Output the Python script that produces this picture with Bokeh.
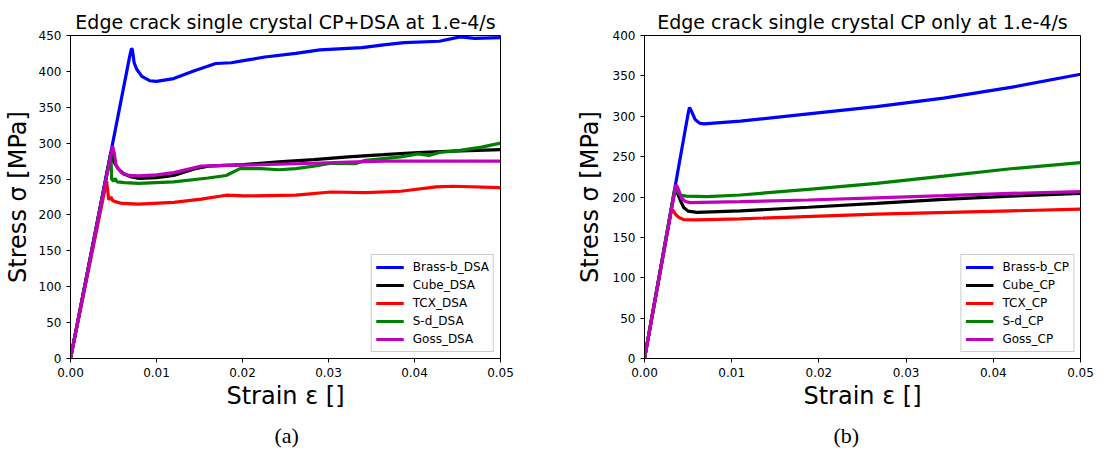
from bokeh.plotting import figure
from bokeh.layouts import row
from bokeh.models import Range1d, FixedTicker, PrintfTickFormatter, Title, Legend, LegendItem
from bokeh.embed import file_html
from bokeh.resources import INLINE

# ---------------- data: CP+DSA (a) ----------------
dsa_brass_x = [0, 0.0069, 0.0071, 0.0072, 0.0074, 0.0077, 0.0083, 0.0092, 0.0100, 0.0120, 0.0144,
               0.0169, 0.0187, 0.0201, 0.0226, 0.0262, 0.0290, 0.0339, 0.0364, 0.0388, 0.0429,
               0.0453, 0.0470, 0.0500]
dsa_brass_y = [0, 422, 432, 430, 412, 403, 393, 387, 386, 390, 401,
               411, 412, 415, 420, 425, 430, 433, 437, 440, 442,
               448, 446, 447]

dsa_cube_x = [0, 0.0047, 0.0050, 0.0055, 0.0062, 0.0071, 0.0080, 0.0100, 0.0120, 0.0144, 0.0160,
              0.0201, 0.0242, 0.0283, 0.0323, 0.0364, 0.0404, 0.0445, 0.0500]
dsa_cube_y = [0, 287, 275, 265, 257, 253, 251, 252, 255, 264, 268,
              270, 274, 277, 281, 284, 287, 289, 291]

dsa_tcx_x = [0, 0.0042, 0.00445, 0.0047, 0.0049, 0.0052, 0.0060, 0.0079, 0.0120, 0.0152, 0.0181,
             0.0201, 0.0262, 0.0303, 0.0343, 0.0384, 0.0425, 0.0445, 0.0500]
dsa_tcx_y = [0, 247, 221, 225, 220, 218.5, 216, 215, 217.5, 222, 227.5,
             226.5, 227.5, 232, 231, 233, 239, 240, 238]

dsa_sd_x = [0, 0.0047, 0.00478, 0.0050, 0.0052, 0.0054, 0.0063, 0.0079, 0.0120, 0.0160, 0.0181,
            0.0197, 0.0222, 0.0242, 0.0262, 0.0283, 0.0303, 0.0331, 0.0343, 0.0384, 0.0404,
            0.0417, 0.0429, 0.0453, 0.0478, 0.0500]
dsa_sd_y = [0, 285, 250, 247, 251, 246, 245, 244, 246, 251.5, 255,
            264.5, 264.5, 263, 264.5, 268, 272, 271.5, 276, 281, 285,
            283, 287, 290, 294.5, 300]

dsa_goss_x = [0, 0.0049, 0.0051, 0.0053, 0.0059, 0.0068, 0.0079, 0.0100, 0.0120, 0.0152, 0.0181,
              0.0222, 0.0283, 0.0323, 0.0364, 0.0425, 0.0500]
dsa_goss_y = [0, 296, 285, 269, 259, 255, 254.5, 256, 259, 268, 269,
              270, 272, 273.5, 275, 275, 275]

# ---------------- data: CP only (b) ----------------
cp_brass_x = [0, 0.0050, 0.00516, 0.0054, 0.0058, 0.0063, 0.0068, 0.0110, 0.0188, 0.0266, 0.0343, 0.0420, 0.0500]
cp_brass_y = [0, 303, 311, 306, 296, 291.5, 290.6, 294, 303, 312, 322.5, 335.7, 352]

cp_cube_x = [0, 0.0035, 0.0037, 0.0041, 0.0045, 0.0050, 0.0060, 0.0110, 0.0188, 0.0266, 0.0343, 0.0420, 0.0500]
cp_cube_y = [0, 210, 207, 196, 187, 182.5, 181, 182.8, 187.3, 192, 197, 201, 204.5]

cp_tcx_x = [0, 0.0031, 0.0033, 0.0036, 0.0039, 0.0045, 0.0060, 0.0110, 0.0266, 0.0420, 0.0500]
cp_tcx_y = [0, 185, 183, 178, 175, 172, 171.7, 173, 178.7, 182.8, 185]

cp_sd_x = [0, 0.0035, 0.0038, 0.0042, 0.0048, 0.0072, 0.0110, 0.0188, 0.0266, 0.0343, 0.0420, 0.0500]
cp_sd_y = [0, 212, 206, 202, 201, 200.4, 202.5, 209.4, 216.8, 225.8, 235, 242.6]

cp_goss_x = [0, 0.0036, 0.0038, 0.00426, 0.0047, 0.0052, 0.0110, 0.0188, 0.0266, 0.0343, 0.0420, 0.0500]
cp_goss_y = [0, 215, 212, 198.4, 194.5, 193, 194.3, 196.3, 199, 201.6, 204.5, 206.6]

x_ticks = [0, 0.01, 0.02, 0.03, 0.04, 0.05]
y_ticks_a = [0, 50, 100, 150, 200, 250, 300, 350, 400, 450]
y_ticks_b = [0, 50, 100, 150, 200, 250, 300, 350, 400]

colors = ["#0000ff", "#000000", "#ff0000", "#008000", "#bf00bf"]
names_a = ["Brass-b_DSA", "Cube_DSA", "TCX_DSA", "S-d_DSA", "Goss_DSA"]
names_b = ["Brass-b_CP", "Cube_CP", "TCX_CP", "S-d_CP", "Goss_CP"]

series_a = [(dsa_brass_x, dsa_brass_y), (dsa_cube_x, dsa_cube_y), (dsa_tcx_x, dsa_tcx_y),
            (dsa_sd_x, dsa_sd_y), (dsa_goss_x, dsa_goss_y)]
series_b = [(cp_brass_x, cp_brass_y), (cp_cube_x, cp_cube_y), (cp_tcx_x, cp_tcx_y),
            (cp_sd_x, cp_sd_y), (cp_goss_x, cp_goss_y)]

FONT = "DejaVu Sans"


def make_fig(title, width, bl, br, ymax, yticks, series, names, caption, cap_offset, ylab_standoff):
    p = figure(width=width, height=455, x_range=Range1d(0, 0.05), y_range=Range1d(0, ymax),
               output_backend="svg", toolbar_location=None, title=title,
               min_border_left=bl, min_border_right=br, min_border_top=35, min_border_bottom=96)
    p.title.text_font = FONT
    p.title.text_font_size = "19px"
    p.title.text_font_style = "normal"
    p.title.text_color = "black"
    p.title.align = "center"
    p.title.standoff = 5
    p.grid.visible = False
    p.outline_line_color = "black"
    p.outline_line_alpha = 1
    p.background_fill_color = "white"
    p.border_fill_color = "white"

    for ax in (p.xaxis[0], p.yaxis[0]):
        ax.axis_line_color = "black"
        ax.major_tick_line_color = "black"
        ax.major_tick_out = 4
        ax.major_tick_in = 0
        ax.minor_tick_line_color = None
        ax.major_label_text_font = FONT
        ax.major_label_text_font_size = "12px"
        ax.major_label_text_color = "black"
        ax.axis_label_text_font = FONT
        ax.axis_label_text_font_size = "24px"
        ax.axis_label_text_font_style = "normal"
        ax.axis_label_text_color = "black"
    p.xaxis.ticker = FixedTicker(ticks=x_ticks)
    p.xaxis.formatter = PrintfTickFormatter(format="%.2f")
    p.yaxis.ticker = FixedTicker(ticks=yticks)
    p.xaxis.axis_label = "Strain ε []"
    p.yaxis.axis_label = "Stress σ [MPa]"
    p.xaxis.axis_label_standoff = 2
    p.yaxis.axis_label_standoff = ylab_standoff

    items = []
    for (xs, ys), c, n in zip(series, colors, names):
        r = p.line(xs, ys, line_color=c, line_width=3.2)
        items.append(LegendItem(label=n, renderers=[r]))
    leg = Legend(items=items, location="bottom_right", margin=6, padding=4, spacing=2,
                 glyph_width=28, glyph_height=16, label_height=16, label_standoff=9,
                 label_text_font=FONT, label_text_font_size="12px", label_text_color="black",
                 border_line_color="#cccccc", border_line_alpha=1.0,
                 background_fill_color="white", background_fill_alpha=0.8)
    p.add_layout(leg, "center")

    cap = Title(text=caption, align="left", text_font="Liberation Serif", text_color="black",
                text_font_size="22px", text_font_style="normal", standoff=16, offset=cap_offset)
    p.add_layout(cap, "below")
    return p


pa = make_fig("Edge crack single crystal CP+DSA at 1.e-4/s", 572, 64, 72, 450, y_ticks_a,
              series_a, names_a, "(a)", 204, 4)
pb = make_fig("Edge crack single crystal CP only at 1.e-4/s", 522, 72, 14, 400, y_ticks_b,
              series_b, names_b, "(b)", 189, 6)

layout = row(pa, pb)
open("out.html", "w").write(file_html(layout, INLINE))
